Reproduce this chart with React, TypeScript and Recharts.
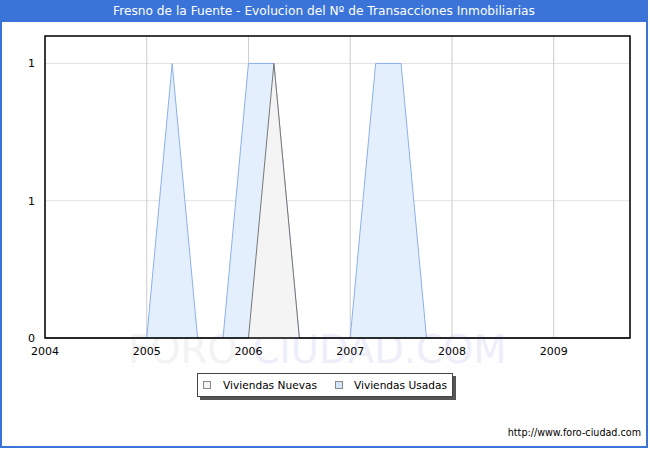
import React from "react";
import {
  ComposedChart,
  Area,
  XAxis,
  YAxis,
  CartesianGrid,
  ReferenceArea,
  Legend,
} from "recharts";

const TITLE = "Fresno de la Fuente - Evolucion del Nº de Transacciones Inmobiliarias";
const quarters = [
  2004, 2004.25, 2004.5, 2004.75,
  2005, 2005.25, 2005.5, 2005.75,
  2006, 2006.25, 2006.5, 2006.75,
  2007, 2007.25, 2007.5, 2007.75,
  2008, 2008.25, 2008.5, 2008.75,
  2009, 2009.25, 2009.5, 2009.75,
];
const nuevas = [0, 0, 0, 0, 0, 0, 0, 0, 0, 1, 0, 0, 0, 0, 0, 0, 0, 0, 0, 0, 0, 0, 0, 0];
const usadas = [0, 0, 0, 0, 0, 1, 0, 0, 1, 1, 0, 0, 0, 1, 1, 0, 0, 0, 0, 0, 0, 0, 0, 0];
const xTicks = [2004, 2005, 2006, 2007, 2008, 2009];
const yTicks = [0, 0.5, 1];
const seriesNames = ["Viviendas Nuevas", "Viviendas Usadas"];

const data = quarters.map((q, i) => ({ x: q, nuevas: nuevas[i], usadas: usadas[i] }));

const FONT = "'DejaVu Sans', Verdana, sans-serif";

const NUEVAS_FILL = "#f4f4f4";
const NUEVAS_STROKE = "#777777";
const USADAS_FILL = "#e3effc";
const USADAS_STROKE = "#8cb0ea";

const LegendContent = () => (
  <div
    style={{
      boxSizing: "border-box",
      width: 256,
      height: 24,
      border: "1px solid #444",
      background: "#fff",
      boxShadow: "3px 3px 0 #555",
      display: "flex",
      alignItems: "center",
      fontFamily: FONT,
      fontSize: 10.6,
      color: "#000",
      whiteSpace: "nowrap",
    }}
  >
    <span style={{ display: "inline-block", flex: "none", width: 6, height: 6, border: "1px solid #888", background: NUEVAS_FILL, marginLeft: 5 }} />
    <span style={{ marginLeft: 12, flex: "none" }}>{seriesNames[0]}</span>
    <span style={{ display: "inline-block", flex: "none", width: 6, height: 6, border: "1px solid #888", background: "#d4e6fa", marginLeft: 18 }} />
    <span style={{ marginLeft: 11, flex: "none" }}>{seriesNames[1]}</span>
  </div>
);

export default function App() {
  return (
    <div
      style={{
        position: "absolute",
        left: 0,
        top: 0,
        width: 650,
        height: 450,
        background: "#fff",
        overflow: "hidden",
      }}
    >
      <div
        style={{
          position: "absolute",
          left: 0,
          top: 0,
          width: 648,
          height: 448,
          boxSizing: "border-box",
          border: "2px solid #3a74d8",
        }}
      />
      <div
        style={{
          position: "absolute",
          left: 0,
          top: 0,
          width: 648,
          height: 22,
          background: "#3a74d8",
          color: "#fff",
          fontFamily: FONT,
          fontSize: 12.2,
          lineHeight: "23px",
          textAlign: "center",
          whiteSpace: "nowrap",
        }}
      >
        {TITLE}
      </div>
      <div
        style={{
          position: "absolute",
          left: 128,
          top: 328,
          width: 390,
          fontFamily: FONT,
          fontSize: 38.5,
          lineHeight: "44px",
          whiteSpace: "nowrap",
        }}
      >
        <span style={{ color: "#f3f3f3" }}>FORO-</span>
        <span style={{ color: "#eeeefb" }}>CIUDAD.COM</span>
      </div>
      <div
        style={{
          position: "absolute",
          right: 9,
          top: 427,
          fontFamily: FONT,
          fontSize: 9.6,
          color: "#000",
          whiteSpace: "nowrap",
        }}
      >
        http://www.foro-ciudad.com
      </div>
      <div style={{ position: "absolute", left: 0, top: 0 }}>
        <ComposedChart
          width={650}
          height={450}
          data={data}
          margin={{ top: 36, right: 20, bottom: 58, left: 0 }}
        >
          <CartesianGrid horizontal={true} vertical={false} stroke="#e2e2e2" />
          <CartesianGrid horizontal={false} vertical={true} stroke="#cccccc" />
          <XAxis
            dataKey="x"
            type="number"
            domain={[2004, 2009.75]}
            ticks={xTicks}
            tickLine={false}
            axisLine={false}
            tickSize={0}
            tickMargin={9}
            height={30}
            interval={0}
            tick={{ fontSize: 11, fill: "#000", fontFamily: FONT }}
          />
          <YAxis
            type="number"
            domain={[0, 1.1]}
            ticks={yTicks}
            tickFormatter={(v: number) => String(Math.round(v))}
            tickLine={false}
            axisLine={false}
            tickSize={0}
            tickMargin={10}
            width={45}
            tick={{ fontSize: 11, fill: "#000", fontFamily: FONT }}
          />
          <Area
            type="linear"
            dataKey="usadas"
            name={seriesNames[1]}
            fill={USADAS_FILL}
            fillOpacity={1}
            stroke={USADAS_STROKE}
            strokeWidth={1}
            isAnimationActive={false}
          />
          <Area
            type="linear"
            dataKey="nuevas"
            name={seriesNames[0]}
            fill={NUEVAS_FILL}
            fillOpacity={1}
            stroke={NUEVAS_STROKE}
            strokeWidth={1}
            isAnimationActive={false}
          />
          <ReferenceArea
            x1={2004}
            x2={2009.75}
            y1={0}
            y2={1.1}
            fill="none"
            stroke="#000"
            strokeWidth={1.5}
            ifOverflow="visible"
          />
          <Legend
            content={<LegendContent />}
            wrapperStyle={{ position: "absolute", left: 197, top: 373, width: 256, height: 24 }}
          />
        </ComposedChart>
      </div>
    </div>
  );
}
